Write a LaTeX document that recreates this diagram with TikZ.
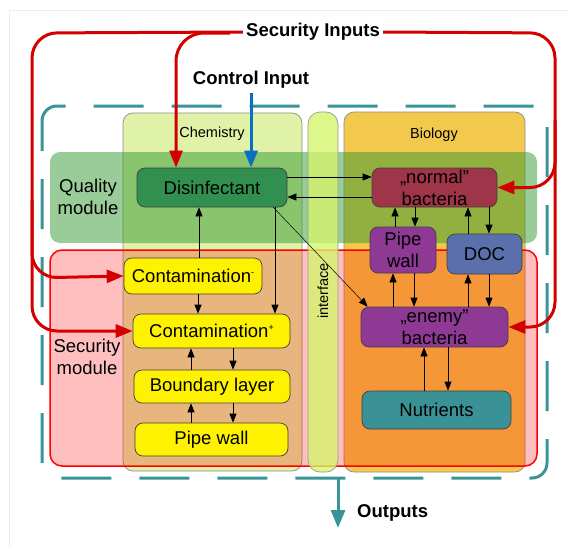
\documentclass[tikz,border=0pt]{standalone}
\usepackage{fontspec}
\setmainfont{Liberation Sans}
\usetikzlibrary{arrows.meta,calc}
\definecolor{chemfill}{HTML}{E0F2A8}
\definecolor{biofill}{HTML}{F2C94C}
\definecolor{intfill}{HTML}{D4F56A}
\definecolor{qgreen}{HTML}{339933}
\definecolor{secred}{HTML}{D40000}
\definecolor{teal}{HTML}{3A9396}
\definecolor{disgreen}{HTML}{31904F}
\definecolor{normred}{HTML}{9E3548}
\definecolor{purp}{HTML}{8E3A94}
\definecolor{docblue}{HTML}{5B6FAD}
\definecolor{nutteal}{HTML}{3A9296}
\definecolor{ctrlblue}{HTML}{0A6FC2}
\newcommand\nodefs{\fontsize{18.5}{22}\selectfont}
\newcommand\smallfs{\fontsize{14.5}{17}\selectfont}
\newcommand\tinysup[1]{\raisebox{7.5pt}{\fontsize{9}{9}\selectfont #1}}
\begin{document}
\begin{tikzpicture}[x=1pt,y=-1pt,
  box/.style={draw=black!75, line width=0.7pt, rounded corners=8pt, inner sep=0pt, align=center, font=\nodefs},
  arr/.style={draw=black, line width=0.7pt, -{Triangle[length=9pt,width=7pt]}},
  secarr/.style={draw=secred, line width=3pt, rounded corners=25pt, -{Triangle[length=17pt,width=13pt]}},
  container/.style={draw=black!45, line width=0.7pt, rounded corners=10pt},
  lbl/.style={font=\nodefs, align=center, inner sep=0pt},
  slbl/.style={font=\smallfs, inner sep=0pt},
  title/.style={font=\nodefs\bfseries, inner sep=3pt}
]
\useasboundingbox (0,0) rectangle (569,546);
% faint frame
\draw[black!7, line width=1pt] (9,546) -- (9,10) -- (569,10);
% containers
\draw[container, fill=chemfill] (123,113) rectangle (302,471);
\draw[container, fill=biofill] (344,112) rectangle (525,472);
\fill[qgreen, fill opacity=0.5, rounded corners=10pt] (50,152) rectangle (537,243);
\draw[red, line width=1.5pt, fill=red, fill opacity=0.25, rounded corners=12pt] (50,250) rectangle (537,466);
\draw[draw=black!40, line width=0.7pt, fill=intfill, fill opacity=0.78, rounded corners=12pt] (308,112) rectangle (338,472);
% outer dashed system boundary
\draw[teal, line width=3pt, dash pattern=on 50pt off 28pt, dash phase=20pt, rounded corners=15pt] (42,106) rectangle (547,478);
% container labels
\node[slbl] (chemlbl) at (212,134) {Chemistry};
\node[slbl] (biolbl) at (434,135) {Biology};
\node[slbl, rotate=90] (intlbl) at (323,291) {interface};
\node[lbl] (qlbl) at (88,197) {Quality\\module};
\node[lbl] (slbl) at (87,357) {Security\\module};
% nodes
\node[box, fill=disgreen, minimum width=150pt, minimum height=39pt] (dis) at (212,187.5) {Disinfectant};
\node[box, fill=yellow, minimum width=138pt, minimum height=36pt] (cm) at (193,276) {Contamination\tinysup{-}};
\node[box, fill=yellow, minimum width=157pt, minimum height=34pt] (cp) at (211.5,331) {Contamination\tinysup{+}};
\node[box, fill=yellow, minimum width=156pt, minimum height=33pt] (bl) at (212,386.5) {Boundary layer};
\node[box, fill=yellow, minimum width=153pt, minimum height=33pt] (pw) at (211.5,439.5) {Pipe wall};
\node[box, fill=normred, minimum width=125pt, minimum height=39pt] (nb) at (434.5,187.5) {„normal”\\bacteria};
\node[box, fill=purp, minimum width=66pt, minimum height=46pt] (bpw) at (403,250) {Pipe\\wall};
\node[box, fill=docblue, minimum width=75pt, minimum height=40pt] (doc) at (484.5,254) {DOC};
\node[box, fill=purp, minimum width=147pt, minimum height=40pt] (eb) at (434.5,327) {„enemy”\\bacteria};
\node[box, fill=nutteal, minimum width=149pt, minimum height=38pt] (nu) at (436.5,410) {Nutrients};
% interaction arrows
\draw[arr] (dis.east |- 0,177) -- (nb.west |- 0,177);
\draw[arr] (nb.west |- 0,197) -- (dis.east |- 0,197);
\draw[arr] (cm.north -| 199,0) -- (dis.south -| 199,0);
\draw[arr] (cm.south -| 198,0) -- (cp.north -| 198,0);
\draw[arr] (dis.south -| 275,0) -- (cp.north -| 275,0);
\draw[arr] (bl.north -| 191,0) -- (cp.south -| 191,0);
\draw[arr] (cp.south -| 233,0) -- (bl.north -| 233,0);
\draw[arr] (pw.north -| 191,0) -- (bl.south -| 191,0);
\draw[arr] (bl.south -| 233,0) -- (pw.north -| 233,0);
\draw[arr, line width=0.5pt] ([xshift=-14pt]dis.south east) -- ([xshift=7pt]eb.north west);
\draw[arr] (bpw.north -| 395,0) -- (nb.south -| 395,0);
\draw[arr] (nb.south -| 415,0) -- (bpw.north -| 415,0);
\draw[arr] (doc.north -| 468,0) -- (nb.south -| 468,0);
\draw[arr] (nb.south -| 489,0) -- (doc.north -| 489,0);
\draw[arr] (eb.north -| 393,0) -- (bpw.south -| 393,0);
\draw[arr] (bpw.south -| 414,0) -- (eb.north -| 414,0);
\draw[arr] (eb.north -| 468,0) -- (doc.south -| 468,0);
\draw[arr] (doc.south -| 489,0) -- (eb.north -| 489,0);
\draw[arr] (nu.north -| 424,0) -- (eb.south -| 424,0);
\draw[arr] (eb.south -| 448,0) -- (nu.north -| 448,0);
% inputs
\node[title] (si) at (313,32) {Security Inputs};
\node[title] (ci) at (251,80) {Control Input};
\coordinate (ctop) at (251,93);
\draw[secarr] (si.west) -- (32,33) -- (32,331) -- (cp.west);
\draw[secarr] (32,200) -- (32,278) -- (cm.west);
\draw[secarr, rounded corners=28pt] (230,33) -- (176,33) -- (dis.north -| 176,0);
\draw[secarr] (si.east) -- (555,33) -- (555,327) -- (eb.east);
\draw[secarr] (555,120) -- (555,187.5) -- (nb.east);
\draw[ctrlblue, line width=3pt, -{Triangle[length=17pt,width=13pt]}] (ctop) -- (dis.north -| ctop);
% output
\coordinate (otop) at (338,478);
\coordinate (obot) at (338,528);
\draw[teal, line width=3pt, -{Triangle[length=18pt,width=14pt]}] (otop) -- (obot);
\node[title, anchor=west, inner sep=0pt] (out) at (357,513) {Outputs};
\end{tikzpicture}
\end{document}
